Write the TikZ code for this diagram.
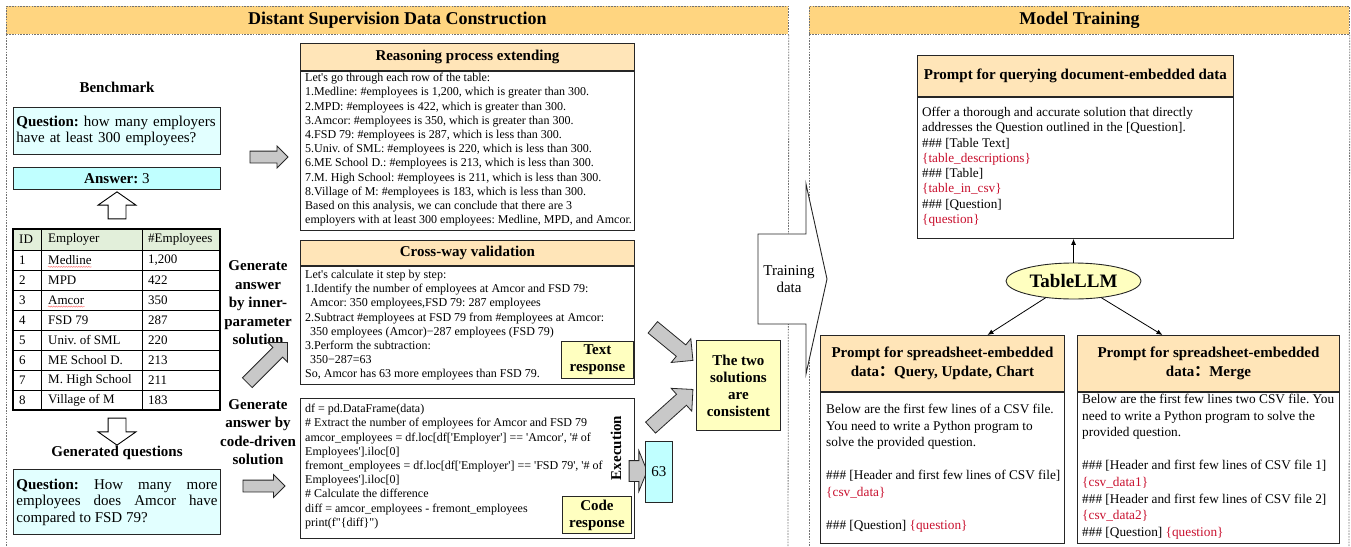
\documentclass[tikz,border=0pt]{standalone}
\usepackage{fontspec}
\setmainfont{Liberation Serif}
\newfontfamily\cjk{Noto Sans CJK SC}
\usetikzlibrary{arrows.meta,shapes.geometric,shapes.arrows,decorations.pathmorphing}

\definecolor{titleorange}{RGB}{255,213,128}
\definecolor{headpeach}{RGB}{255,229,184}
\definecolor{qcyan}{RGB}{226,255,255}
\definecolor{anscyan}{RGB}{192,255,255}
\definecolor{resyellow}{RGB}{255,255,192}
\definecolor{tabgreen}{RGB}{226,239,218}
\definecolor{arrowgray}{RGB}{200,200,200}
\definecolor{slotred}{RGB}{200,16,46}

\newcommand{\fPanel}{\fontsize{18}{21}\selectfont\bfseries}
\newcommand{\fTitle}{\fontsize{15}{19}\selectfont\bfseries}
\newcommand{\fGen}{\fontsize{15}{18.5}\selectfont\bfseries}
\newcommand{\fLabel}{\fontsize{15}{17}\selectfont\bfseries}
\newcommand{\fQuest}{\fontsize{15}{16.5}\selectfont}
\newcommand{\fTab}{\fontsize{13}{15}\selectfont}
\newcommand{\fBody}{\fontsize{12}{14.2}\selectfont}
\newcommand{\fPrompt}{\fontsize{13.2}{15.3}\selectfont}
\newcommand{\fSheet}{\fontsize{13.3}{16.6}\selectfont}
\newcommand{\fTrain}{\fontsize{15}{17}\selectfont}
\newcommand{\fLLM}{\fontsize{19}{22}\selectfont\bfseries}
\newcommand{\apos}{\textquotesingle}
\newcommand{\phold}[1]{\textcolor{slotred}{#1}}

\tikzset{
  box/.style={draw=black!85, line width=0.9pt, inner sep=0pt},
  panel/.style={draw=black!55, line width=0.8pt, dash pattern=on 1.6pt off 1.2pt},
  txt/.style={anchor=north west, align=left, inner sep=0pt},
  cell/.style={anchor=west, inner sep=0pt, font=\fTab},
  grayarrow/.style={single arrow, draw=black!85, fill=arrowgray, line width=0.8pt,
    inner xsep=0pt, single arrow head indent=0pt},
  hollowarrow/.style={single arrow, draw=black, fill=white, line width=0.9pt,
    inner xsep=0pt, inner ysep=8.5pt, single arrow head extend=10pt,
    minimum height=27pt, single arrow tip angle=110},
  spell/.style={draw=red!55, line width=0.5pt, decorate,
    decoration={snake, amplitude=0.6pt, segment length=2.5pt}},
  thin arrow/.style={line width=0.8pt, -{Latex[length=6pt,width=5pt]}}
}

\begin{document}
\frenchspacing
\hyphenpenalty=10000
\exhyphenpenalty=10000
\begin{tikzpicture}[x=1pt,y=-1pt]
  \useasboundingbox (0,0) rectangle (1351,546);
  % the two panels
  \node[box, panel, fill=titleorange, minimum width=782pt, minimum height=28pt,
        anchor=north west, font=\fPanel] (dsbar) at (6,6) {Distant Supervision Data Construction};
  \draw[panel] (dsbar.south west) -- (6,546);
  \draw[panel] (dsbar.south east) -- (788,546);
  \node[box, panel, fill=titleorange, minimum width=540pt, minimum height=28pt,
        anchor=north west, font=\fPanel] (mtbar) at (809,6) {Model Training};
  \draw[panel] (mtbar.south west) -- (809,546);
  \draw[panel] (mtbar.south east) -- (1349,546);

  % benchmark column
  \node[font=\fLabel] (bench) at (117,87) {Benchmark};
  \node[box, fill=qcyan, minimum width=207pt, minimum height=47pt, text width=201pt,
        align=left, anchor=north west, font=\fQuest] (q1) at (13,107)
        {\textbf{Question:} how many employers\\have at least 300 employees?};
  \node[box, fill=anscyan, minimum width=207pt, minimum height=22pt,
        anchor=north west, font=\fQuest] (ans) at (13,167) {\textbf{Answer:} 3};
  \node[hollowarrow, rotate=90] (uparr) at (117,208.5) {};

  \fill[tabgreen] (13,229) rectangle (220,250);
  \foreach \y in {250,270,...,390} \draw[line width=0.6pt] (13,\y) -- (220,\y);
  \draw[line width=0.6pt] (41,229) -- (41,410) (142,229) -- (142,410);
  \draw[line width=1.1pt] (13,229) rectangle (220,410);
  \node[cell] (hid) at (19,239.5) {ID};
  \node[cell] (hemp) at (48,239.5) {Employer};
  \node[cell] (hnum) at (148,239.5) {\#Employees};
  \foreach \i/\emp/\num in {1/Medline/{1,200}, 2/MPD/422, 3/Amcor/350, 4/FSD 79/287,
      5/Univ. of SML/220, 6/ME School D./213, 7/M. High School/211, 8/Village of M/183}{
    \node[cell] (id\i) at (19,240+20*\i) {\i};
    \node[cell] (emp\i) at (48,240+20*\i) {\emp};
    \node[cell] (num\i) at (148,240+20*\i) {\num};
  }
  \draw[spell] ([yshift=-2pt]emp1.south west) -- ([yshift=-2pt]emp1.south east);
  \draw[spell] ([yshift=-2pt]emp3.south west) -- ([yshift=-2pt]emp3.south east);

  \node[hollowarrow, rotate=-90] (downarr) at (117,428.5) {};
  \node[font=\fLabel] (genq) at (117,453) {Generated questions};
  \node[box, fill=qcyan, minimum width=207pt, minimum height=65pt, text width=201pt,
        align=justify, anchor=north west, font=\fQuest] (q2) at (13,469)
        {\textbf{Question:} How many more employees does Amcor have compared to FSD 79?};

  \node[font=\fGen, align=center] (geninner) at (258,303) {Generate\\answer\\by inner-\\parameter\\solution};
  \node[font=\fGen, align=center] (gencode) at (258,432) {Generate\\answer by\\code-driven\\solution};
  \node[grayarrow, minimum height=38pt, inner ysep=5.5pt, single arrow head extend=5pt] (toreason) at (266,157) {};
  \node[grayarrow, rotate=45, minimum height=57pt, inner ysep=6.5pt, single arrow head extend=7pt] (toinner) at (265,365) {};
  \node[grayarrow, minimum height=42pt, inner ysep=5.5pt, single arrow head extend=5.5pt] (tocode) at (261,486) {};

  % reasoning and validation boxes
  \node[box, fill=headpeach, minimum width=334pt, minimum height=27pt,
        anchor=north west, font=\fTitle] (reasonhd) at (300,43) {Reasoning process extending};
  \node[box, minimum width=334pt, minimum height=159pt, anchor=north] (reason) at (reasonhd.south) {};
  \node[txt, font=\fBody] (reasontxt) at (305,73) {Let\apos s go through each row of the table:\\
    1.Medline: \#employees is 1,200, which is greater than 300.\\
    2.MPD: \#employees is 422, which is greater than 300.\\
    3.Amcor: \#employees is 350, which is greater than 300.\\
    4.FSD 79: \#employees is 287, which is less than 300.\\
    5.Univ. of SML: \#employees is 220, which is less than 300.\\
    6.ME School D.: \#employees is 213, which is less than 300.\\
    7.M. High School: \#employees is 211, which is less than 300.\\
    8.Village of M: \#employees is 183, which is less than 300.\\
    Based on this analysis, we can conclude that there are 3\\
    employers with at least 300 employees: Medline, MPD, and Amcor.};

  \node[box, fill=headpeach, minimum width=334pt, minimum height=25pt,
        anchor=north west, font=\fTitle] (crosshd) at (300,240) {Cross-way validation};
  \node[box, minimum width=334pt, minimum height=118pt, anchor=north] (cross) at (crosshd.south) {};
  \node[txt, font=\fBody] (crosstxt) at (305,270) {Let\apos s calculate it step by step:\\
    1.Identify the number of employees at Amcor and FSD 79:\\
    \hspace*{5pt}Amcor: 350 employees,FSD 79: 287 employees\\
    2.Subtract \#employees at FSD 79 from \#employees at Amcor:\\
    \hspace*{5pt}350 employees (Amcor)−287 employees (FSD 79)\\
    3.Perform the subtraction:\\
    \hspace*{5pt}350−287=63\\
    So, Amcor has 63 more employees than FSD 79.};
  \node[box, fill=resyellow, minimum width=72pt, minimum height=37pt, anchor=north west,
        font=\fLabel, align=center] (textres) at (561,341) {Text\\response};

  \node[box, minimum width=334pt, minimum height=140pt, anchor=north west] (code) at (300,398) {};
  \node[txt, font=\fBody] (codetxt) at (305,404) {df = pd.DataFrame(data)\\
    \# Extract the number of employees for Amcor and FSD 79\\
    amcor\_employees = df.loc[df[\apos Employer\apos] == \apos Amcor\apos, \apos\# of\\
    Employees\apos].iloc[0]\\
    fremont\_employees = df.loc[df[\apos Employer\apos] == \apos FSD 79\apos, \apos\# of\\
    Employees\apos].iloc[0]\\
    \# Calculate the difference\\
    diff = amcor\_employees - fremont\_employees\\
    print(f\textquotedbl\{diff\}\textquotedbl)};
  \node[box, fill=resyellow, minimum width=69pt, minimum height=37pt, anchor=north west,
        font=\fLabel, align=center] (coderes) at (562,496) {Code\\response};
  \node[rotate=90, font=\fLabel] (exec) at (616,448) {Execution};
  \node[grayarrow, minimum height=18pt, inner ysep=10pt, single arrow head extend=10pt,
        single arrow tip angle=136] (execarr) at (636,471) {};
  \node[box, fill=anscyan, minimum width=27pt, minimum height=61pt, anchor=north west,
        font=\fQuest] (res63) at (645,441) {63};

  \node[box, fill=resyellow, minimum width=84pt, minimum height=90pt, anchor=north west,
        font=\fLabel, align=center] (consist) at (696,340) {The two\\solutions\\are\\consistent};
  \node[grayarrow, rotate=-39.5, minimum height=52pt, inner ysep=7pt, single arrow head extend=8pt] (crossarr) at (670,341.5) {};
  \node[grayarrow, rotate=42, minimum height=57pt, inner ysep=7pt, single arrow head extend=8pt] (codearr) at (669,411) {};

  % training data arrow
  \draw[box, fill=white] (758,234) -- (806,234) -- (806,184) -- (827,279)
        -- (806,374) -- (806,324) -- (758,324) -- cycle;
  \node[font=\fTrain, align=center] (train) at (789,279) {Training\\data};

  % model training column
  \node[box, fill=headpeach, minimum width=316pt, minimum height=41pt, anchor=north west,
        font=\fTitle] (queryhd) at (917,55) {Prompt for querying document-embedded data};
  \node[box, minimum width=316pt, minimum height=141pt, anchor=north] (query) at (queryhd.south) {};
  \node[txt, font=\fPrompt] (querytxt) at (922,107) {Offer a thorough and accurate solution that directly\\
    addresses the Question outlined in the [Question].\\
    \#\#\# [Table Text]\\
    \phold{\{table\_descriptions\}}\\
    \#\#\# [Table]\\
    \phold{\{table\_in\_csv\}}\\
    \#\#\# [Question]\\
    \phold{\{question\}}};

  \node[ellipse, draw=black!85, line width=0.9pt, fill=resyellow, minimum width=135pt,
        minimum height=36pt, inner sep=0pt, font=\fLLM] (llm) at (1073.5,281) {TableLLM};

  \node[box, fill=headpeach, minimum width=244pt, minimum height=56pt, anchor=north west,
        font=\fTitle, align=center] (sheethd) at (820,335)
        {Prompt for spreadsheet-embedded\\data{\cjk：}Query, Update, Chart};
  \node[box, minimum width=244pt, minimum height=151pt, anchor=north] (sheet) at (sheethd.south) {};
  \node[txt, font=\fSheet] (sheettxt) at (826,404) {Below are the first few lines of a CSV file.\\
    You need to write a Python program to\\
    solve the provided question.\\
    ~\\
    \#\#\# [Header and first few lines of CSV file]\\
    \phold{\{csv\_data\}}\\
    ~\\
    \#\#\# [Question] \phold{\{question\}}};

  \node[box, fill=headpeach, minimum width=262pt, minimum height=56pt, anchor=north west,
        font=\fTitle, align=center] (mergehd) at (1077,335)
        {Prompt for spreadsheet-embedded\\data{\cjk：}Merge};
  \node[box, minimum width=262pt, minimum height=151pt, anchor=north] (merge) at (mergehd.south) {};
  \node[txt, font=\fSheet] (mergetxt) at (1082,394) {Below are the first few lines two CSV file. You\\
    need to write a Python program to solve the\\
    provided question.\\
    ~\\
    \#\#\# [Header and first few lines of CSV file 1]\\
    \phold{\{csv\_data1\}}\\
    \#\#\# [Header and first few lines of CSV file 2]\\
    \phold{\{csv\_data2\}}\\
    \#\#\# [Question] \phold{\{question\}}};

  \draw[thin arrow] (llm.north) -- (llm.north |- query.south);
  \draw[thin arrow] (llm.211) -- ([xshift=45pt]sheethd.north);
  \draw[thin arrow] (llm.-31) -- ([xshift=-46pt]mergehd.north);
\end{tikzpicture}
\end{document}
